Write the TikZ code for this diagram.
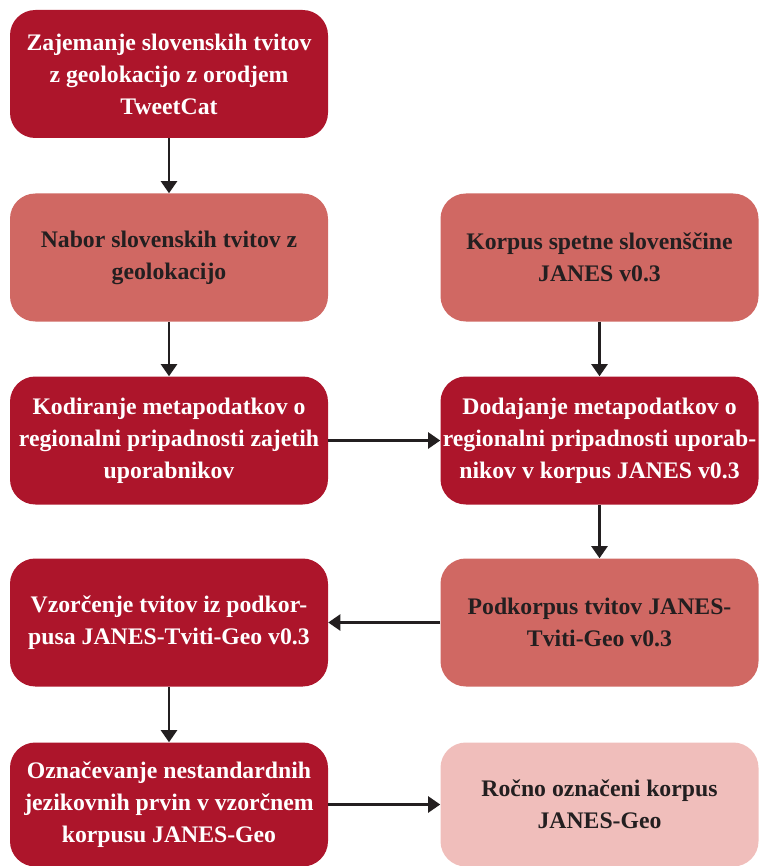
\documentclass[tikz,border=0pt]{standalone}
\usepackage{fontspec}
\setmainfont{Liberation Serif}
\definecolor{darkred}{RGB}{173, 21, 43}
\definecolor{midred}{RGB}{208, 104, 99}
\definecolor{palered}{RGB}{240, 190, 187}
\definecolor{inkblack}{RGB}{35, 31, 32}
\usetikzlibrary{arrows.meta}

\begin{document}
\begin{tikzpicture}[
    x=0.75pt, y=-0.75pt,
    box/.style={fill=darkred, text=white, rounded corners=19pt,
                minimum width=238.5pt, minimum height=96pt, align=center,
                inner sep=0pt, font=\bfseries\fontsize{17.8}{24}\selectfont},
    midbox/.style={box, fill=midred, text=inkblack},
    palebox/.style={box, fill=palered, text=inkblack},
    arr/.style={-{Triangle[width=12pt, length=9pt]}, line width=1.6pt, color=inkblack},
  ]
    \useasboundingbox (0,0) rectangle (758,866);
    %% Columns centred at x = 169 and 599
    \node[box] (zajem) at (169, 74) {Zajemanje slovenskih tvitov\\z geolokacijo z orodjem\\TweetCat};

    \node[midbox] (nabor)  at (169, 257.5) {Nabor slovenskih tvitov z\\geolokacijo};
    \node[midbox] (korpus) at (599.5, 257.5) {Korpus spetne slovenščine\\JANES v0.3};

    \node[box] (kodir) at (169, 440.5) {Kodiranje metapodatkov o\\regionalni pripadnosti zajetih\\uporabnikov};
    \node[box] (dodaj) at (599.5, 440.5) {Dodajanje metapodatkov o\\regionalni pripadnosti uporab-\\nikov v korpus JANES v0.3};

    \node[box]    (vzorc)  at (169, 622.5) {Vzorčenje tvitov iz podkor-\\pusa JANES-Tviti-Geo v0.3};
    \node[midbox] (podkor) at (599.5, 622.5) {Podkorpus tvitov JANES-\\Tviti-Geo v0.3};

    % Last row runs past the lower edge
    \node[box, minimum height=93pt]     (oznac) at (169, 804.5) {Označevanje nestandardnih\\jezikovnih prvin v vzorčnem\\korpusu JANES-Geo};
    \node[palebox, minimum height=93pt] (rocno) at (599.5, 804.5) {Ročno označeni korpus\\JANES-Geo};

    \draw[arr] (zajem) -- (nabor);
    \draw[arr] (nabor) -- (kodir);
    \draw[arr] (korpus) -- (dodaj);
    \draw[arr] (kodir) -- (dodaj);
    \draw[arr] (dodaj) -- (podkor);
    \draw[arr] (podkor) -- (vzorc);
    \draw[arr] (vzorc) -- (oznac);
    \draw[arr] (oznac) -- (rocno);
  \end{tikzpicture}
\end{document}
